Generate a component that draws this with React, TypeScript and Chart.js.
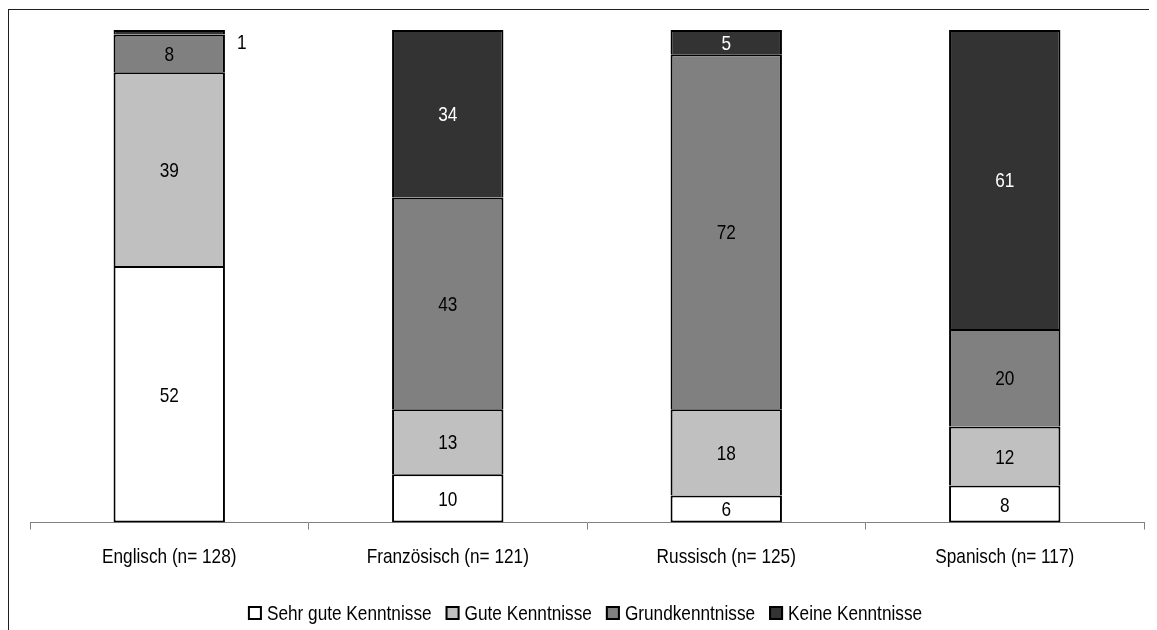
import React, { useEffect, useRef } from "react";
import { Chart, registerables } from "chart.js";

Chart.register(...registerables);

const categories = [
  "Englisch (n= 128)",
  "Französisch (n= 121)",
  "Russisch (n= 125)",
  "Spanisch (n= 117)",
];
const seriesNames = [
  "Sehr gute Kenntnisse",
  "Gute Kenntnisse",
  "Grundkenntnisse",
  "Keine Kenntnisse",
];
const sehrGute = [52.1, 9.8, 5.5, 7.5];
const gute = [39.3, 13.2, 17.5, 12.0];
const grund = [7.7, 43.0, 72.1, 19.8];
const keine = [0.9, 34.0, 4.9, 60.7];
const seriesColors = ["#FFFFFF", "#C0C0C0", "#808080", "#333333"];
const labelColors = ["#000000", "#000000", "#000000", "#FFFFFF"];

const FONT = "21px 'Liberation Sans', Arial, sans-serif";
const NARROW = 0.82;
const CAP = 7.5;

function narrowText(ctx: any, txt: string, x: number, y: number, align: string) {
  ctx.save();
  ctx.translate(x, y);
  ctx.scale(NARROW, 1);
  ctx.textAlign = align;
  ctx.textBaseline = "alphabetic";
  ctx.fillText(txt, 0, 0);
  ctx.restore();
}

const textPlugin = {
  id: "narrowTexts",
  afterDatasetsDraw(chart: any) {
    const ctx = chart.ctx;
    ctx.save();
    ctx.font = FONT;
    // segment labels
    chart.data.datasets.forEach((ds: any, di: number) => {
      const meta = chart.getDatasetMeta(di);
      meta.data.forEach((bar: any, i: number) => {
        const v = ds.data[i];
        const txt = String(Math.round(v));
        const top = Math.min(bar.y, bar.base);
        const bottom = Math.max(bar.y, bar.base);
        const h = bottom - top;
        if (h < 12) {
          ctx.fillStyle = "#000000";
          narrowText(ctx, txt, bar.x + bar.width / 2 + 12, top + 11 + CAP, "left");
        } else {
          ctx.fillStyle = labelColors[di];
          narrowText(ctx, txt, bar.x, (top + bottom) / 2 + CAP, "center");
        }
      });
    });
    // category labels
    const xs = chart.scales.x;
    ctx.fillStyle = "#000000";
    categories.forEach((c, i) => {
      narrowText(ctx, c, xs.getPixelForValue(i), chart.chartArea.bottom + 40, "center");
    });
    // legend
    const box = 14;
    const gapBox = 5;
    const gapItem = 14;
    const widths = seriesNames.map((s) => ctx.measureText(s).width * NARROW);
    const total =
      widths.reduce((a, w) => a + box + gapBox + w, 0) + gapItem * (seriesNames.length - 1);
    let x = 577 - total / 2;
    const baseY = 612;
    seriesNames.forEach((s, i) => {
      ctx.fillStyle = seriesColors[i];
      ctx.fillRect(x, baseY - 14, box, box);
      ctx.strokeStyle = "#000000";
      ctx.lineWidth = 2;
      ctx.strokeRect(x + 1, baseY - 13, box - 2, box - 2);
      ctx.fillStyle = "#000000";
      narrowText(ctx, s, x + box + gapBox, baseY, "left");
      x += box + gapBox + widths[i] + gapItem;
    });
    ctx.restore();
  },
};

const framePlugin = {
  id: "frame",
  afterDraw(chart: any) {
    const ctx = chart.ctx;
    ctx.save();
    ctx.strokeStyle = "#202020";
    ctx.lineWidth = 1;
    ctx.strokeRect(0.5, 1.5, chart.width + 20, chart.height + 20);
    ctx.restore();
  },
};

export default function App() {
  const ref = useRef<HTMLCanvasElement>(null);
  useEffect(() => {
    document.body.style.overflow = "hidden";
    const series = [sehrGute, gute, grund, keine];
    const chart = new Chart(ref.current!, {
      type: "bar",
      data: {
        labels: categories,
        datasets: series.map((d, i) => ({
          label: seriesNames[i],
          data: d,
          backgroundColor: seriesColors[i],
          borderColor: "#000000",
          borderWidth: 2,
          borderSkipped: i === 0 ? false : "start",
          categoryPercentage: 1,
          barPercentage: 0.4,
        })),
      },
      options: {
        animation: false,
        responsive: false,
        maintainAspectRatio: false,
        layout: { padding: { left: 22, right: 13, top: 22, bottom: 0 } },
        plugins: {
          tooltip: { enabled: false },
          legend: { display: false },
        },
        scales: {
          x: {
            stacked: true,
            offset: true,
            afterFit: (s: any) => {
              s.height = 107.5;
            },
            grid: {
              display: true,
              drawOnChartArea: false,
              drawTicks: true,
              tickLength: 7,
              color: "#808080",
              offset: true,
            },
            border: { display: true, color: "#808080", width: 1 },
            ticks: { display: false },
          },
          y: {
            stacked: true,
            display: false,
            min: 0,
            max: 100,
          },
        },
      },
      plugins: [textPlugin, framePlugin],
    });
    return () => chart.destroy();
  }, []);
  return (
    <div style={{ width: 1149, height: 622 }}>
      <canvas ref={ref} width={1149} height={622} style={{ display: "block" }} />
    </div>
  );
}
